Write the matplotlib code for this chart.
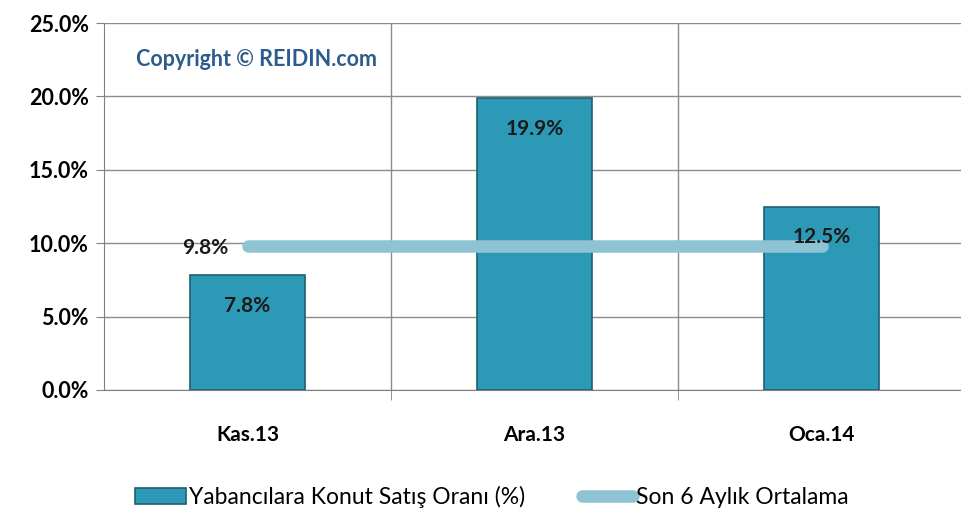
import matplotlib
matplotlib.use('Agg')
import matplotlib.pyplot as plt
from matplotlib.ticker import FuncFormatter, FixedLocator

plt.rcParams['font.family'] = ['Lato', 'DejaVu Sans']

# data
months = ['Kas.13', 'Ara.13', 'Oca.14']
ratio = [7.8, 19.9, 12.5]           # Yabancılara Konut Satış Oranı (%)
avg6 = [9.8, 9.8, 9.8]              # Son 6 Aylık Ortalama

fig = plt.figure(figsize=(9.61, 5.2), dpi=100)
ax = fig.add_axes([104 / 961, 130 / 520, 857 / 961, 367 / 520])

x = list(range(len(months)))
bars = ax.bar(x, ratio, width=0.4, color='#2C9AB7', edgecolor='#1F5F70',
              linewidth=1.2, zorder=3, label='Yabancılara Konut Satış Oranı (%)')
line, = ax.plot(x, avg6, color='#8EC3D3', linewidth=9, solid_capstyle='round',
                zorder=4, label='Son 6 Aylık Ortalama')

# labels
for xi, v in zip(x, ratio):
    ax.text(xi, v - 2.1, f'{v:.1f}%', ha='center', va='center',
            fontsize=15, fontweight='bold', color='#1a1a1a', zorder=5)
ax.text(x[0] - 0.065, avg6[0] - 0.1, f'{avg6[0]:.1f}%', ha='right', va='center',
        fontsize=15, fontweight='bold', color='#1a1a1a', zorder=5)

ax.set_xlim(-0.5, 2.486)
ax.set_ylim(0, 25)
ax.set_yticks([0, 5, 10, 15, 20, 25])
ax.yaxis.set_major_formatter(FuncFormatter(lambda v, p: f'{v:.1f}%'))
ax.set_xticks(x)
ax.set_xticklabels(months)
ax.xaxis.set_minor_locator(FixedLocator([0.5, 1.5]))
ax.tick_params(axis='x', which='major', length=0, pad=25, labelsize=15)
ax.tick_params(axis='x', which='minor', length=7, color='#808080')
ax.tick_params(axis='y', length=6, color='#808080', labelsize=15.5, pad=5)
for lab in ax.get_xticklabels() + ax.get_yticklabels():
    lab.set_fontweight('bold')

ax.grid(True, axis='y', color='#8c8c8c', linewidth=1, zorder=0)
ax.grid(True, axis='x', which='minor', color='#8c8c8c', linewidth=1, zorder=0)
for s in ['top', 'right']:
    ax.spines[s].set_visible(False)
ax.spines['left'].set_color('#808080')
ax.spines['bottom'].set_color('#808080')

ax.text(0.037, 0.9, 'Copyright © REIDIN.com', transform=ax.transAxes,
        fontsize=15.5, fontweight='bold', color='#2D5C8C', ha='left', va='center')

fig.legend([bars, line], [bars.get_label(), line.get_label()], loc='center',
           bbox_to_anchor=(0.512, 0.044), ncol=2, frameon=False, fontsize=16.5,
           handlelength=2.2, columnspacing=2.5, handletextpad=0.15)

fig.savefig('out.png', dpi=100)
